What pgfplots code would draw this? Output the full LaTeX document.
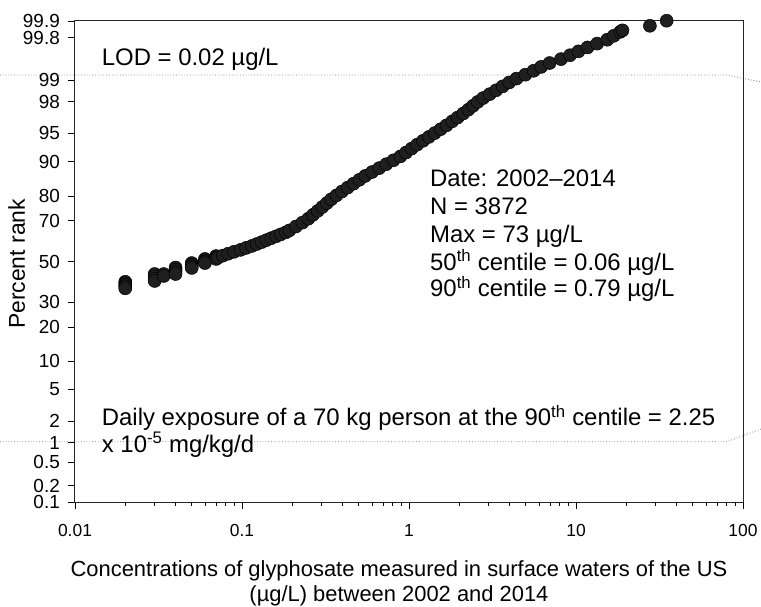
\documentclass[border=0pt]{standalone}
\usepackage{fontspec}
\setmainfont{Liberation Sans}
\usepackage{pgfplots}
\pgfplotsset{compat=1.18}
\usepackage{pgfplotstable}

\pgfplotstableread{
x p
0.02 39.7
0.02 39.0
0.02 38.2
0.02 37.4
0.02 36.5
0.03 43.6
0.03 42.5
0.03 41.3
0.03 40.1
0.034 43.6
0.034 42.6
0.04 46.9
0.04 45.8
0.04 44.7
0.04 43.6
0.05 49.2
0.05 48.3
0.05 47.5
0.05 46.7
0.06 51.3
0.06 50.6
0.06 49.9
0.06 49.2
0.07 52.8
0.07 52.0
0.07 51.3
0.0718 51.99
0.0767 52.99
0.0826 53.98
0.0896 54.97
0.0981 55.96
0.1058 56.95
0.1145 57.93
0.1225 58.90
0.1312 59.87
0.1400 60.83
0.1496 61.79
0.1603 62.74
0.1710 63.68
0.1832 64.62
0.1922 65.54
0.2103 67.36
0.2300 69.15
0.2495 70.88
0.2661 72.58
0.2840 74.22
0.3026 75.80
0.3220 77.34
0.3425 78.81
0.3680 80.23
0.3970 81.59
0.4294 82.89
0.4653 84.13
0.5047 85.31
0.5473 86.43
0.6012 87.49
0.6632 88.49
0.7313 89.44
0.8064 90.32
0.8881 91.15
0.9594 91.92
1.0366 92.65
1.1166 93.32
1.2112 93.94
1.3139 94.52
1.4252 95.05
1.5461 95.54
1.6771 95.99
1.8143 96.41
1.9568 96.78
2.1086 97.13
2.2654 97.44
2.4163 97.725
2.5785 97.982
2.7820 98.214
3.0425 98.422
3.3273 98.610
3.6399 98.778
3.981 98.928
4.402 99.061
4.977 99.180
5.574 99.286
6.180 99.379
6.950 99.461
8.134 99.534
9.220 99.598
10.34 99.653
11.72 99.702
13.38 99.744
15.38 99.781
16.82 99.813
18.39 99.841
18.98 99.851
27.7 99.877
34.9 99.901
}\glydata

\begin{document}
\begin{tikzpicture}
\begin{axis}[
  at={(75bp,105bp)}, anchor=south west,
  scale only axis, width=668bp, height=481bp,
  xmode=log, xmin=0.01, xmax=100,
  ymin=-3.0902, ymax=3.0902,
  declare function={
    asr(\t)=\t-(2.515517+0.802853*\t+0.010328*\t*\t)/(1+1.432788*\t+0.189269*\t*\t+0.001308*\t*\t*\t);
    probit(\p)=(\p<50) ? -asr(sqrt(-2*ln(\p/100))) : asr(sqrt(-2*ln(1-\p/100)));
  },
  xtick={0.01,0.1,1,10,100}, xticklabels={0.01,0.1,1,10,100},
  ytick={-3.0902,-2.8782,-2.5758,-2.3263,-2.0537,-1.6449,-1.2816,-0.8416,-0.5244,0,0.5244,0.8416,1.2816,1.6449,2.0537,2.3263,2.8782,3.0902},
  yticklabels={0.1,0.2,0.5,1,2,5,10,20,30,50,70,80,90,95,98,99,99.8,99.9},
  tick align=outside, tick pos=left,
  major tick length=7bp, minor tick length=4bp,
  axis line style={black!85, line width=1bp},
  every tick/.style={black, line width=0.9bp},
  /pgf/number format/assume math mode=true,
  xticklabel style={font=\fontsize{17.5}{20}\selectfont, inner sep=0pt, anchor=north, yshift=-15bp},
  yticklabel style={font=\fontsize{19}{22}\selectfont, inner sep=0pt, anchor=east, xshift=-8bp},
  xlabel={Concentrations of glyphosate measured in surface waters of the US\\(µg/L) between 2002 and 2014},
  xlabel style={align=center, font=\fontsize{22}{25}\selectfont, at={(axis description cs:0.485,0)}, anchor=north, yshift=-58.7bp, inner sep=0pt},
  ylabel={Percent rank},
  ylabel style={at={(axis description cs:-0.0749,0.495)}, anchor=base, font=\fontsize{23}{26}\selectfont, inner sep=0pt},
  clip=false,
]
\draw[black!50, dotted, line width=0.8bp] (axis cs:0.00356,2.396) -- (axis cs:80.96,2.396) -- (axis cs:128.2,2.306);
\draw[black!50, dotted, line width=0.8bp] (axis cs:0.00356,-2.315) -- (axis cs:80.0,-2.315) -- (axis cs:128.2,-2.152);
\addplot[only marks, mark=*, mark size=6.5bp, mark options={fill=black!88, draw=black, line width=0.5bp}]
  table[x=x, y expr={probit(\thisrow{p})}] {\glydata};
\node[anchor=base west, inner sep=0pt, font=\fontsize{24}{27}\selectfont] at (axis description cs:0.040,0.907) {LOD = 0.02 µg/L};
\node[anchor=base west, inner sep=0pt, font=\fontsize{24}{27}\selectfont] at (axis description cs:0.5314,0.6549) {Date: 2002–2014};
\node[anchor=base west, inner sep=0pt, font=\fontsize{24}{27}\selectfont] at (axis description cs:0.5314,0.5967) {N = 3872};
\node[anchor=base west, inner sep=0pt, font=\fontsize{24}{27}\selectfont] at (axis description cs:0.5314,0.5385) {Max = 73 µg/L};
\node[anchor=base west, inner sep=0pt, font=\fontsize{24}{27}\selectfont] at (axis description cs:0.5314,0.4823) {50\textsuperscript{th} centile = 0.06 µg/L};
\node[anchor=base west, inner sep=0pt, font=\fontsize{24}{27}\selectfont] at (axis description cs:0.5314,0.4262) {90\textsuperscript{th} centile = 0.79 µg/L};
\node[anchor=base west, inner sep=0pt, font=\fontsize{24}{27}\selectfont] at (axis description cs:0.040,0.158) {Daily exposure of a 70 kg person at the 90\textsuperscript{th} centile = 2.25};
\node[anchor=base west, inner sep=0pt, font=\fontsize{24}{27}\selectfont] at (axis description cs:0.040,0.1019) {x 10\textsuperscript{-5} mg/kg/d};
\end{axis}
\pgfresetboundingbox
\path[use as bounding box] (0,0) rectangle (761bp,607bp);
\end{tikzpicture}
\end{document}
